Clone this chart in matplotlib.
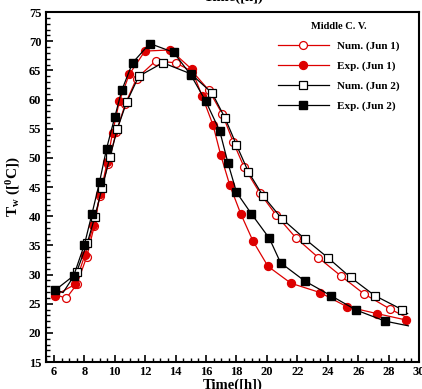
import matplotlib
matplotlib.use("Agg")
import matplotlib.pyplot as plt
from matplotlib.ticker import MultipleLocator

plt.rcParams['font.family'] = ['Liberation Serif', 'DejaVu Serif']
plt.rcParams['font.weight'] = 'bold'
plt.rcParams['mathtext.fontset'] = 'custom'
plt.rcParams['mathtext.rm'] = 'Liberation Serif:bold'
plt.rcParams['mathtext.it'] = 'Liberation Serif:bold'
plt.rcParams['mathtext.bf'] = 'Liberation Serif:bold'

# Numerical (Jun 1) - first and last points are curve ends without markers
num_jun1_t = [6.1, 6.8, 7.5, 8.15, 8.65, 9.0, 9.57, 10.1, 10.7, 11.43, 12.68, 14.0, 15.1,
              16.18, 17.07, 17.77, 18.5, 19.53, 20.6, 21.9, 23.38, 24.89, 26.37, 28.08, 29.3]
num_jun1_T = [26.6, 25.9, 28.3, 33.0, 38.3, 43.4, 49.0, 54.5, 59.3, 63.6, 66.6, 66.3, 64.8,
              61.6, 57.5, 52.8, 48.4, 44.0, 40.2, 36.3, 32.9, 29.7, 26.7, 24.1, 22.5]

# Experimental (Jun 1)
exp_jun1_t = [6.07, 7.38, 8.04, 8.6, 9.05, 9.5, 9.85, 10.3, 10.95, 11.98, 13.66, 15.05,
              15.74, 16.46, 16.96, 17.56, 18.28, 19.09, 20.07, 21.58, 23.5, 25.24, 27.23, 29.15]
exp_jun1_T = [26.4, 28.3, 33.4, 38.5, 43.8, 49.3, 54.3, 59.7, 64.3, 68.3, 68.5, 65.2,
              60.6, 55.6, 50.5, 45.3, 40.4, 35.7, 31.4, 28.5, 26.9, 24.5, 23.3, 22.2]

# Numerical (Jun 2) - first two and last points are curve points without markers
num_jun2_t = [6.2, 6.6, 7.5, 8.19, 8.69, 9.17, 9.68, 10.16, 10.77, 11.58, 13.16, 15.0,
              16.4, 17.25, 18.0, 18.78, 19.74, 20.97, 22.5, 24.0, 25.5, 27.08, 28.87, 29.25]
num_jun2_T = [27.3, 26.9, 30.5, 35.4, 39.9, 44.9, 50.1, 54.9, 59.5, 64.0, 66.3, 64.4,
              61.1, 56.8, 52.2, 47.6, 43.5, 39.6, 36.1, 32.9, 29.5, 26.4, 24.0, 23.3]

# Experimental (Jun 2) - last point is curve end without marker
exp_jun2_t = [6.07, 7.3, 8.0, 8.5, 9.0, 9.46, 10.0, 10.46, 11.17, 12.3, 13.86, 15.0,
              15.98, 16.9, 17.43, 18.0, 18.98, 20.16, 20.9, 22.48, 24.19, 25.87, 27.78, 29.3]
exp_jun2_T = [27.3, 29.8, 35.1, 40.4, 45.9, 51.6, 57.0, 61.6, 66.3, 69.6, 68.1, 64.2,
              59.7, 54.6, 49.2, 44.1, 40.4, 36.2, 32.0, 28.9, 26.4, 23.9, 22.0, 21.2]

labels = ['Num. (Jun 1)', 'Exp. (Jun 1)', 'Num. (Jun 2)', 'Exp. (Jun 2)']
legend_title = 'Middle C. V.'
xlabel = 'Time([h])'
ylabel = r'T$_\mathrm{w}$ ([$^\mathrm{0}$C])'

RED = '#dd0000'
MS = 5.7

fig = plt.figure(figsize=(4.22, 3.89), dpi=100)
ax = fig.add_axes([0.108, 0.0694, 0.885, 0.8997])

ax.plot(num_jun1_t, num_jun1_T, color=RED, lw=0.9, marker='o', ms=MS,
        mfc='white', mec=RED, mew=0.9, markevery=slice(1, len(num_jun1_t) - 1),
        label=labels[0])
ax.plot(exp_jun1_t, exp_jun1_T, color=RED, lw=0.9, marker='o', ms=MS,
        mfc=RED, mec=RED, label=labels[1])
ax.plot(num_jun2_t, num_jun2_T, color='black', lw=0.9, marker='s', ms=MS,
        mfc='white', mec='black', mew=0.9, markevery=slice(2, len(num_jun2_t) - 1),
        label=labels[2])
ax.plot(exp_jun2_t, exp_jun2_T, color='black', lw=0.9, marker='s', ms=MS,
        mfc='black', mec='black', markevery=slice(0, len(exp_jun2_t) - 1),
        label=labels[3])

ax.set_xlim(5.45, 30)
ax.set_ylim(15, 75)
ax.xaxis.set_major_locator(MultipleLocator(2))
ax.xaxis.set_minor_locator(MultipleLocator(0.5))
ax.yaxis.set_major_locator(MultipleLocator(5))
ax.yaxis.set_minor_locator(MultipleLocator(1))
ax.tick_params(which='both', direction='in', top=False, right=False, labelsize=9)
ax.tick_params(which='major', length=5, width=1.2, pad=3)
ax.tick_params(which='minor', length=2.8, width=1.0)
for sp in ax.spines.values():
    sp.set_linewidth(1.5)

ax.set_xlabel(xlabel, fontsize=10.5, fontweight='bold', labelpad=0)
ax.set_ylabel(ylabel, fontsize=11, fontweight='bold', labelpad=4)

leg = ax.legend(loc='upper left', bbox_to_anchor=(0.61, 0.985), frameon=False,
                title=legend_title, fontsize=8, title_fontsize=7.5,
                handlelength=4.6, labelspacing=0.9, handletextpad=0.7,
                borderaxespad=0)
leg.get_title().set_fontweight('bold')
for t in leg.get_texts():
    t.set_fontweight('bold')

# clipped duplicate axis title at the very top
fig.text(0.553, 1 - 1.0 / 389, xlabel, fontsize=10.5, fontweight='bold',
         ha='center', va='baseline')

fig.savefig('out.png', dpi=100)
